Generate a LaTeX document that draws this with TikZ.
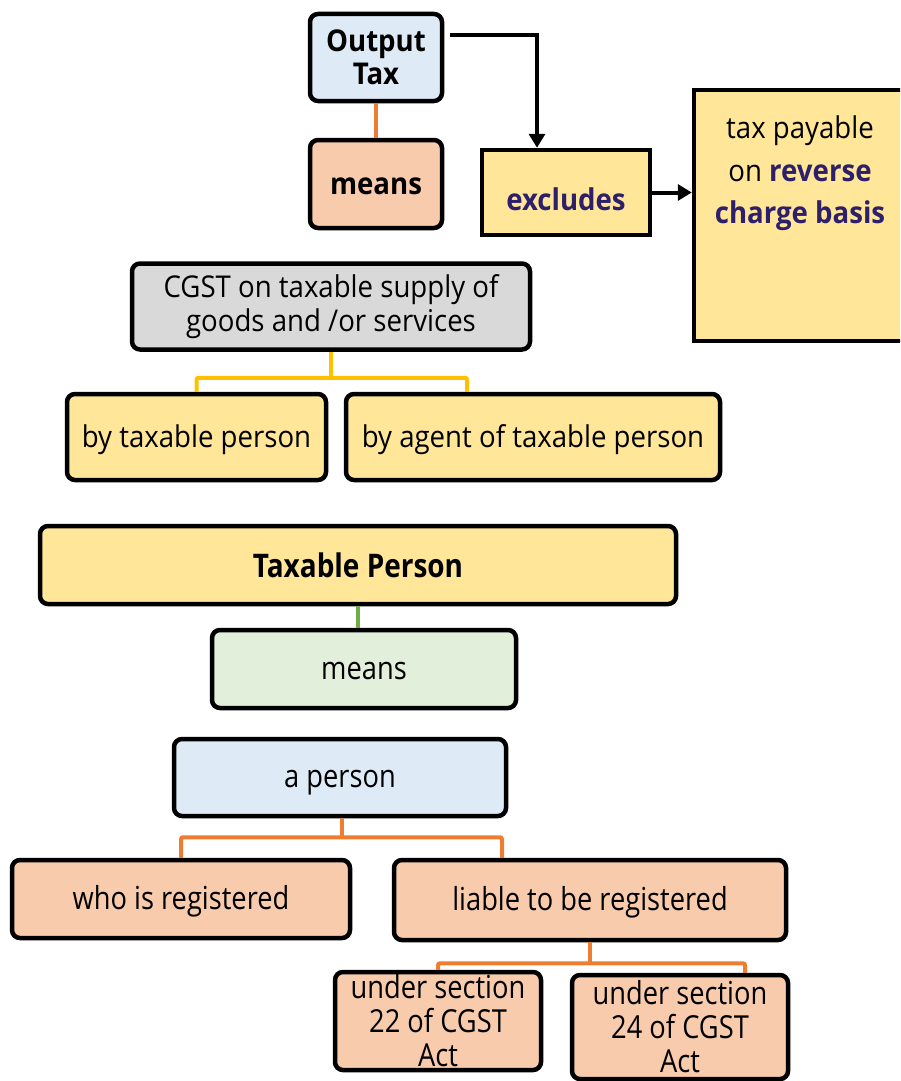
\documentclass[tikz,border=0pt]{standalone}
\usepackage{fontspec}
\setmainfont[FakeStretch=0.92]{Open Sans}
\newfontfamily\narrowfont[FakeStretch=0.86]{Open Sans}
\usetikzlibrary{arrows.meta,calc}
\definecolor{cblue}{HTML}{DEEBF7}
\definecolor{corange}{HTML}{F8CBAD}
\definecolor{cgray}{HTML}{D9D9D9}
\definecolor{cyellow}{HTML}{FFE699}
\definecolor{cgreen}{HTML}{E2EFDA}
\definecolor{lorange}{HTML}{ED7D31}
\definecolor{lgray}{HTML}{A5A5A5}
\definecolor{lyellow}{HTML}{FFC000}
\definecolor{lgreen}{HTML}{70AD47}
\definecolor{lblue}{HTML}{5B9BD5}
\definecolor{cpurple}{HTML}{2E1F6B}
\tikzset{
  box/.style={draw=black, line width=4.5pt, rounded corners=8pt, align=center, inner sep=0pt,
    font=\fontsize{30}{34}\selectfont},
  sqbox/.style={draw=black, line width=4.5pt, align=center, inner sep=0pt},
  nbox/.style={box, font=\narrowfont\fontsize{31.7}{34}\selectfont},
  oneline/.style={text height=25pt, text depth=5pt},
  conn/.style={line width=4pt},
  arr/.style={line width=4pt, -{Triangle[length=14pt,width=16pt]}},
}
\begin{document}
\begin{tikzpicture}[x=1pt,y=-1pt]
\useasboundingbox (0,0) rectangle (900,1081);
\clip (0,0) rectangle (900,1081);
% top part
\node[box, fill=cblue, minimum width=132pt, minimum height=87pt, font=\bfseries\fontsize{30}{33}\selectfont] (ot) at (376,57.5) {Output\\Tax};
\node[box, oneline, fill=corange, minimum width=132pt, minimum height=88pt, font=\bfseries\fontsize{30}{33}\selectfont] (m1) at (376,184) {means};
\node[box, fill=cgray, minimum width=398pt, minimum height=86pt] (cgst) at (331,306.5) {CGST on taxable supply of\\goods and /or services};
\node[box, oneline, fill=cyellow, minimum width=259pt, minimum height=86pt] (btp) at (196.5,437) {by taxable person};
\node[box, oneline, fill=cyellow, minimum width=374pt, minimum height=86pt] (bag) at (533,437) {by agent of taxable person};
\node[sqbox, fill=cyellow, minimum width=168pt, minimum height=85pt, text=cpurple, text height=36pt, text depth=1pt, font=\bfseries\fontsize{30}{33}\selectfont] (exc) at (566,192.5) {excludes};
\node[sqbox, fill=cyellow, minimum width=218pt, minimum height=251pt] (tp) at (803,215.5) {};
\node[anchor=north, align=center, inner sep=0pt, font=\fontsize{30}{42.5}\selectfont] (tpt) at (800,116) {tax payable\\on \textcolor{cpurple}{\bfseries reverse}\\\textcolor{cpurple}{\bfseries charge basis}};
% connectors top
\draw[conn, lorange] (ot.south) -- (m1.north);
\draw[conn, lgray] ($(m1.south)+(-34,0)$) -- ($(m1.south)+(-34,0)$ |- cgst.north);
\draw[conn, lyellow] (cgst.south) -- ($(cgst.south)+(0,26)$) coordinate (j1);
\draw[conn, lyellow, rounded corners=2pt] (btp.north) |- (j1) -| ($(bag.north)+(-66,0)$);
\draw[arr] ($(ot.east)+(6,-22.5)$) -| (exc.north -| 537,0);
\draw[arr] (exc.east) -- (exc.east -| tp.west);
% bottom part
\node[nbox, fill=cyellow, minimum width=636pt, minimum height=78pt, font=\narrowfont\bfseries\fontsize{32.5}{34}\selectfont] (tpn) at (358,565) {Taxable Person};
\node[nbox, oneline, fill=cgreen, minimum width=304pt, minimum height=78pt] (m2) at (364,669) {means};
\node[nbox, oneline, fill=cblue, minimum width=332pt, minimum height=77pt] (ap) at (340,777.5) {a person};
\node[nbox, oneline, fill=corange, minimum width=338pt, minimum height=78pt] (who) at (181,899) {who is registered};
\node[nbox, oneline, fill=corange, minimum width=392pt, minimum height=80pt] (lia) at (590,900) {liable to be registered};
\node[nbox, fill=corange, minimum width=206pt, minimum height=98pt] (u22) at (438,1021) {under section\\22 of CGST\\Act};
\node[nbox, fill=corange, minimum width=216pt, minimum height=104pt] (u24) at (680,1027) {under section\\24 of CGST\\Act};
\draw[conn, lgreen] (tpn.south) -- (tpn.south |- m2.north);
\draw[conn, lblue] ($(m2.south)+(-15,0)$) -- ($(m2.south)+(-15,0)$ |- ap.north);
\draw[conn, lorange] ($(ap.south)+(2,0)$) -- ($(ap.south)+(2,19)$) coordinate (j2);
\draw[conn, lorange, rounded corners=2pt] (who.north) |- (j2) -| ($(lia.north)+(-88,0)$);
\draw[conn, lorange] (lia.south) -- ($(lia.south)+(0,21)$) coordinate (j3);
\draw[conn, lorange, rounded corners=2pt] (u22.north) |- (j3) -| ($(u24.north)+(65,0)$);
\end{tikzpicture}
\end{document}
